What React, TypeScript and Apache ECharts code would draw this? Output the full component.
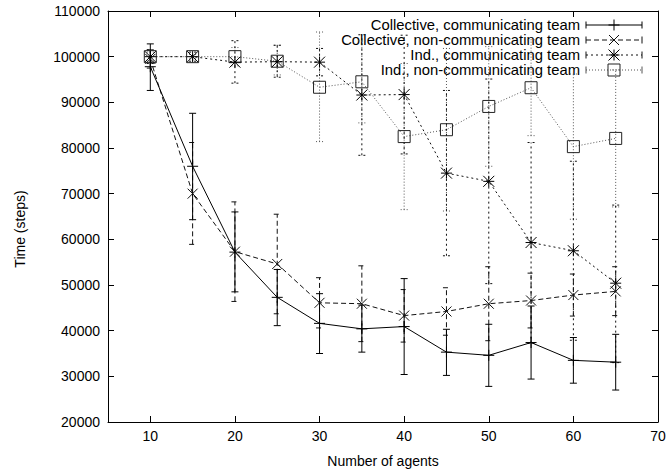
import React, { useEffect, useRef } from "react";
import * as echarts from "echarts";

const agents = [10, 15, 20, 25, 30, 35, 40, 45, 50, 55, 60, 65];
const xTickValues = [10, 20, 30, 40, 50, 60];
const xLabelValues = [10, 20, 30, 40, 50, 60, 70];

const collCommMean = [97800, 76000, 57200, 47300, 41600, 40400, 40900, 35300, 34600, 37400, 33500, 33100];
const collCommLow = [92600, 64300, 48500, 41100, 35000, 35300, 30400, 30200, 27800, 29400, 28500, 27000];
const collCommHigh = [102800, 87600, 66000, 53400, 48100, 45600, 51400, 40300, 41400, 45400, 38500, 39200];

const collNonMean = [99500, 70000, 57300, 54600, 46100, 45900, 43300, 44200, 45900, 46600, 47800, 48600];
const collNonLow = [97500, 58900, 46400, 43700, 40600, 37600, 37500, 39000, 37800, 40600, 43200, 43300];
const collNonHigh = [101500, 81200, 68200, 65500, 51600, 54200, 49000, 49400, 54000, 52600, 52400, 54000];

const indCommMean = [100000, 100000, 98800, 98900, 98800, 91600, 91700, 74500, 72700, 59300, 57500, 50400];
const indCommLow = [98500, 99000, 94200, 95500, 95800, 78400, 78700, 56400, 50300, 37200, 37900, 33000];
const indCommHigh = [101500, 101000, 103500, 102500, 101800, 104800, 104700, 92600, 95100, 81200, 77100, 67500];

const indNonMean = [100000, 100000, 100000, 99000, 93300, 94500, 82500, 84000, 89100, 93200, 80300, 82100];
const indNonLow = [99000, 99500, 98000, 96000, 81400, 85500, 66500, 66200, 76000, 82700, 64400, 67100];
const indNonHigh = [101000, 100500, 102000, 102500, 105400, 103500, 98500, 101800, 102200, 103700, 96200, 97100];

const seriesNames = [
  "Collective, communicating team",
  "Collective, non-communicating team",
  "Ind., communicating team",
  "Ind., non-communicating team",
];
const xTitle = "Number of agents";
const yTitle = "Time (steps)";

const FONT = "'Liberation Sans', Arial, Helvetica, sans-serif";

const PLUS = "path://M0,5L10,5M5,0L5,10";
const CROSS = "path://M0,0L10,10M10,0L0,10";
const STAR = "path://M0,0L10,10M10,0L0,10M0,5L10,5M5,0L5,10";

type Style = { color: string; mark: string; dash: number[] | null; width: number; symbol: string; size: number };

const styles: Style[] = [
  { color: "#000", mark: "#000", dash: null, width: 1, symbol: PLUS, size: 11 },
  { color: "#111", mark: "#111", dash: [5, 3], width: 1, symbol: CROSS, size: 10 },
  { color: "#111", mark: "#000", dash: [2, 3], width: 1, symbol: STAR, size: 11 },
  { color: "#555", mark: "#222", dash: [1, 2], width: 1, symbol: "rect", size: 12 },
];

function errorSeries(mean: number[], low: number[], high: number[], st: Style, name: string) {
  const data = agents.map((a, i) => [a, low[i], high[i], mean[i]]);
  return {
    type: "custom",
    name: name + " (error)",
    xAxisIndex: 0,
    yAxisIndex: 0,
    silent: true,
    z: 2,
    encode: { x: 0, y: [1, 2] },
    data,
    renderItem: (_params: any, api: any) => {
      const x = api.value(0);
      const lo = api.coord([x, api.value(1)]);
      const hi = api.coord([x, api.value(2)]);
      const w = 3.5;
      const style: any = { stroke: st.color, lineWidth: st.width, fill: "none" };
      if (st.dash) style.lineDash = st.dash;
      return {
        type: "group",
        children: [
          { type: "line", shape: { x1: lo[0], y1: lo[1], x2: hi[0], y2: hi[1] }, style },
          { type: "line", shape: { x1: lo[0] - w, y1: lo[1], x2: lo[0] + w, y2: lo[1] }, style },
          { type: "line", shape: { x1: hi[0] - w, y1: hi[1], x2: hi[0] + w, y2: hi[1] }, style },
        ],
      };
    },
  };
}

function lineSeries(mean: number[], st: Style, name: string) {
  return {
    type: "line",
    name,
    xAxisIndex: 0,
    yAxisIndex: 0,
    z: 3,
    data: agents.map((a, i) => [a, mean[i]]),
    symbol: st.symbol,
    symbolSize: st.size,
    lineStyle: { color: st.color, width: st.width, type: st.dash ? st.dash : "solid" },
    itemStyle: { color: "none", borderColor: st.mark, borderWidth: 1 },
    emphasis: { disabled: true },
  };
}

function legendGraphics() {
  const out: any[] = [];
  const textRight = 580;
  const x1 = 586;
  const x2 = 642;
  const cx = (x1 + x2) / 2;
  styles.forEach((st, i) => {
    const y = 25 + i * 15;
    const style: any = { stroke: st.color, lineWidth: 1, fill: "none" };
    if (st.dash) style.lineDash = st.dash;
    out.push({
      type: "text",
      x: textRight,
      y,
      scaleX: 1.06,
      style: {
        text: seriesNames[i],
        align: "right",
        verticalAlign: "middle",
        font: `14px ${FONT}`,
        lineHeight: 14,
        fill: "#000",
      },
    });
    out.push({ type: "line", shape: { x1, y1: y, x2, y2: y }, style });
    out.push({ type: "line", shape: { x1, y1: y - 3.5, x2: x1, y2: y + 3.5 }, style: { stroke: st.color, lineWidth: 1 } });
    out.push({ type: "line", shape: { x1: x2, y1: y - 3.5, x2, y2: y + 3.5 }, style: { stroke: st.color, lineWidth: 1 } });
    const h = st.size / 2;
    const ms = { stroke: st.mark, lineWidth: 1, fill: "none" };
    if (i === 0 || i === 2) {
      out.push({ type: "line", shape: { x1: cx - h, y1: y, x2: cx + h, y2: y }, style: ms });
      out.push({ type: "line", shape: { x1: cx, y1: y - h, x2: cx, y2: y + h }, style: ms });
    }
    if (i === 1 || i === 2) {
      out.push({ type: "line", shape: { x1: cx - h, y1: y - h, x2: cx + h, y2: y + h }, style: ms });
      out.push({ type: "line", shape: { x1: cx + h, y1: y - h, x2: cx - h, y2: y + h }, style: ms });
    }
    if (i === 3) {
      out.push({ type: "rect", shape: { x: cx - h, y: y - h, width: 2 * h, height: 2 * h }, style: ms });
    }
  });
  out.push({
    type: "text",
    x: 20,
    y: 229,
    rotation: Math.PI / 2,
    style: { text: yTitle, align: "center", verticalAlign: "middle", font: `14px ${FONT}`, fill: "#000" },
  });
  return out;
}

export default function App() {
  const ref = useRef<HTMLDivElement>(null);
  useEffect(() => {
    if (!ref.current) return;
    const chart = echarts.init(ref.current, null, { renderer: "svg" });
    const axisText = { color: "#000", fontSize: 14, fontFamily: FONT };
    const tickStyle = { color: "#000", width: 1 };
    chart.setOption({
      animation: false,
      backgroundColor: "#fff",
      textStyle: { fontFamily: FONT },
      grid: { left: 108, right: 13, top: 11, bottom: 49, containLabel: false },
      xAxis: [
        {
          type: "value",
          position: "bottom",
          min: 5,
          max: 70,
          interval: 5,
          name: xTitle,
          nameLocation: "middle",
          nameGap: 32,
          nameTextStyle: axisText,
          axisLine: { show: true, onZero: false, lineStyle: tickStyle },
          axisTick: { show: true, inside: true, length: 6, lineStyle: tickStyle, customValues: xTickValues },
          axisLabel: { ...axisText, margin: 7, customValues: xLabelValues },
          splitLine: { show: false },
        },
        {
          type: "value",
          position: "top",
          min: 5,
          max: 70,
          interval: 5,
          axisLine: { show: true, onZero: false, lineStyle: tickStyle },
          axisTick: { show: true, inside: true, length: 6, lineStyle: tickStyle, customValues: xTickValues },
          axisLabel: { show: false },
          splitLine: { show: false },
        },
      ],
      yAxis: [
        {
          type: "value",
          position: "left",
          min: 20000,
          max: 110000,
          interval: 10000,
          axisLine: { show: true, onZero: false, lineStyle: tickStyle },
          axisTick: { show: true, inside: true, length: 6, lineStyle: tickStyle },
          axisLabel: { ...axisText, margin: 8, formatter: (v: number) => String(v) },
          splitLine: { show: false },
        },
        {
          type: "value",
          position: "right",
          min: 20000,
          max: 110000,
          interval: 10000,
          axisLine: { show: true, onZero: false, lineStyle: tickStyle },
          axisTick: { show: true, inside: true, length: 6, lineStyle: tickStyle },
          axisLabel: { show: false },
          splitLine: { show: false },
        },
      ],
      series: [
        errorSeries(indNonMean, indNonLow, indNonHigh, styles[3], seriesNames[3]),
        errorSeries(indCommMean, indCommLow, indCommHigh, styles[2], seriesNames[2]),
        errorSeries(collNonMean, collNonLow, collNonHigh, styles[1], seriesNames[1]),
        errorSeries(collCommMean, collCommLow, collCommHigh, styles[0], seriesNames[0]),
        lineSeries(indNonMean, styles[3], seriesNames[3]),
        lineSeries(indCommMean, styles[2], seriesNames[2]),
        lineSeries(collNonMean, styles[1], seriesNames[1]),
        lineSeries(collCommMean, styles[0], seriesNames[0]),
      ],
      graphic: legendGraphics(),
    });
    return () => chart.dispose();
  }, []);
  return (
    <div
      ref={ref}
      style={{ position: "fixed", left: 0, top: 0, width: 671, height: 473, background: "#fff" }}
    />
  );
}
